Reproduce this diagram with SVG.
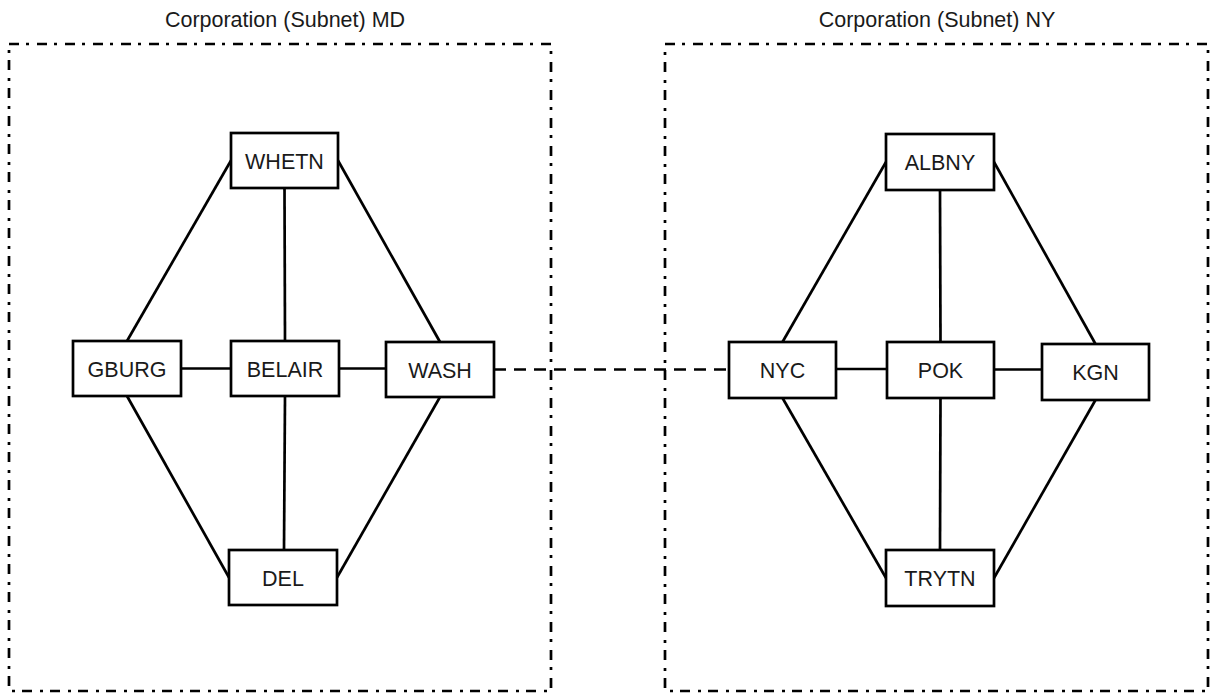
<svg xmlns="http://www.w3.org/2000/svg" width="1213" height="694" viewBox="0 0 1213 694">
<style>
.bg{fill:#ffffff}
.container{fill:none;stroke:#000;stroke-width:2.7;stroke-dasharray:10 7 3 8}
.title{font-family:"Liberation Sans",Arial,sans-serif;font-size:21.5px;fill:#1a1a1a;text-anchor:middle}
.box{fill:#fff;stroke:#000;stroke-width:2.7}
.label{font-family:"Liberation Sans",Arial,sans-serif;font-size:21.5px;fill:#1a1a1a;text-anchor:middle}
.edge{stroke:#000;stroke-width:2.7;fill:none}
.dashed{stroke:#000;stroke-width:2.7;fill:none;stroke-dasharray:12 8}
</style>
<rect class="bg" x="0" y="0" width="1213" height="694"/>
<g id="container-md">
<rect class="container" x="9" y="44" width="542" height="647"/>
<text class="title" x="285" y="27">Corporation (Subnet) MD</text>
</g>
<g id="container-ny">
<rect class="container" x="665" y="44" width="543" height="647"/>
<text class="title" x="937" y="27">Corporation (Subnet) NY</text>
</g>
<g id="connectors">
<line class="edge" x1="231" y1="160.5" x2="127" y2="341"/>
<line class="edge" x1="338" y1="160.5" x2="440" y2="342"/>
<line class="edge" x1="284.5" y1="188" x2="285" y2="341"/>
<line class="edge" x1="181" y1="368.5" x2="231" y2="368.5"/>
<line class="edge" x1="339" y1="368.5" x2="386" y2="368.5"/>
<line class="edge" x1="127" y1="396" x2="229" y2="577.5"/>
<line class="edge" x1="285" y1="396" x2="284" y2="550"/>
<line class="edge" x1="440" y1="397" x2="337" y2="577.5"/>
<line class="dashed" x1="494" y1="369.5" x2="729" y2="369.5"/>
<line class="edge" x1="886" y1="162" x2="782.5" y2="342"/>
<line class="edge" x1="994" y1="162" x2="1095.5" y2="344"/>
<line class="edge" x1="940" y1="190" x2="940.5" y2="342"/>
<line class="edge" x1="836" y1="369" x2="887" y2="369"/>
<line class="edge" x1="994" y1="369.5" x2="1042" y2="369.5"/>
<line class="edge" x1="782.5" y1="398" x2="886" y2="578"/>
<line class="edge" x1="940.5" y1="398" x2="940" y2="550"/>
<line class="edge" x1="1095.5" y1="400" x2="994" y2="578"/>
</g>
<g id="node-whetn"><rect class="box" x="231" y="133" width="107" height="55"/><text class="label" x="284.5" y="168.5">WHETN</text></g>
<g id="node-gburg"><rect class="box" x="73" y="341" width="108" height="55"/><text class="label" x="127" y="376.5">GBURG</text></g>
<g id="node-belair"><rect class="box" x="231" y="341" width="108" height="55"/><text class="label" x="285" y="376.5">BELAIR</text></g>
<g id="node-wash"><rect class="box" x="386" y="342" width="108" height="55"/><text class="label" x="440" y="377.5">WASH</text></g>
<g id="node-del"><rect class="box" x="229" y="550" width="108" height="55"/><text class="label" x="283" y="585.5">DEL</text></g>
<g id="node-albny"><rect class="box" x="886" y="134" width="108" height="56"/><text class="label" x="940" y="170">ALBNY</text></g>
<g id="node-nyc"><rect class="box" x="729" y="342" width="107" height="56"/><text class="label" x="782.5" y="378">NYC</text></g>
<g id="node-pok"><rect class="box" x="887" y="342" width="107" height="56"/><text class="label" x="940.5" y="378">POK</text></g>
<g id="node-kgn"><rect class="box" x="1042" y="344" width="107" height="56"/><text class="label" x="1095.5" y="380">KGN</text></g>
<g id="node-trytn"><rect class="box" x="886" y="550" width="108" height="56"/><text class="label" x="940" y="586">TRYTN</text></g>
</svg>
